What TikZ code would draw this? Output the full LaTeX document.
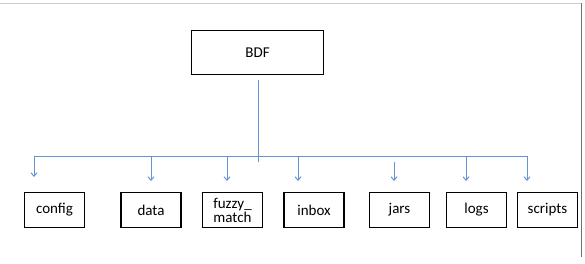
\documentclass[tikz,border=0pt]{standalone}
\usepackage{fontspec}
\setmainfont{Carlito}
\usetikzlibrary{arrows.meta}
\definecolor{lineblue}{RGB}{100,148,210}
\definecolor{framegray}{RGB}{205,205,205}
\definecolor{edgegray}{RGB}{110,110,110}
\begin{document}
\begin{tikzpicture}[x=1pt,y=-1pt,
  box/.style={draw=black, line width=1.3pt, minimum width=60pt, minimum height=35pt,
    inner sep=0pt, align=center, font=\fontsize{15}{17}\selectfont},
  rootbox/.style={box, minimum width=132pt, minimum height=44pt},
  link/.style={draw=lineblue, line width=1pt},
  branch/.style={link, -{Straight Barb[length=3.5pt,width=6pt]}}
]
\useasboundingbox (0,0) rectangle (585,263);
% frame edges
\draw[framegray, line width=0.8pt] (0,3) -- (582,3);
\draw[edgegray, line width=1.2pt] (581.5,3) -- (581.5,257);

\node[rootbox] (bdf) at (257.5,52.5) {BDF};
\node[box] (config)  at (54.5,210)  {config};
\node[box] (data)    at (151,210)   {data};
\node[box] (fuzzy)   at (232.5,210) {fuzzy\_\\[-3pt]match};
\node[box] (inbox)   at (314,210)   {inbox};
\node[box] (jars)    at (399.5,210) {jars};
\node[box] (logs)    at (476.5,210) {logs};
\node[box] (scripts) at (547.5,210) {scripts};

\coordinate (ttop) at (258,80);
\coordinate (tbot) at (258,162);
\coordinate (hl) at (34,156);
\coordinate (hr) at (527,156);
\draw[link] (ttop) -- (tbot);
\draw[link] (hl) -- (hr);

\coordinate (s1) at (34,156);  \coordinate (e1) at (34,177);
\coordinate (s2) at (151,156); \coordinate (e2) at (151,181);
\coordinate (s3) at (227,156); \coordinate (e3) at (227,181);
\coordinate (s4) at (298,156); \coordinate (e4) at (298,181);
\coordinate (s5) at (394,162); \coordinate (e5) at (394,181);
\coordinate (s6) at (466,156); \coordinate (e6) at (466,181);
\coordinate (s7) at (527,156); \coordinate (e7) at (527,181);
\foreach \i in {1,...,7} \draw[branch] (s\i) -- (e\i);
\end{tikzpicture}
\end{document}
